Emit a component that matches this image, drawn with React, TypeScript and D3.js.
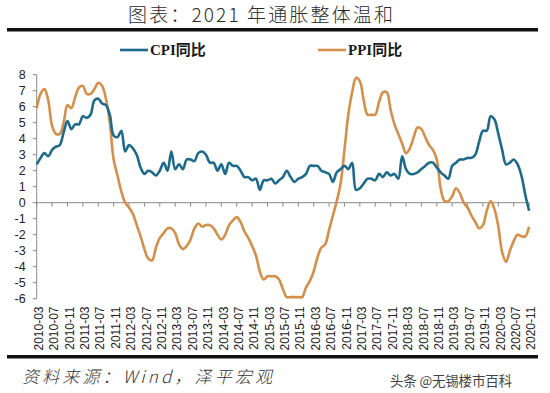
import { useEffect, useRef } from "react";
import * as d3 from "d3";

// months 2010-03 .. 2020-11
const months: string[] = d3
  .timeMonths(new Date(2010, 2, 1), new Date(2020, 11, 1))
  .map(d3.timeFormat("%Y-%m"));

const cpi = [
  2.4, 2.8, 3.1, 2.9, 3.3, 3.5, 3.6, 4.4, 5.1, 4.6,
  4.9, 4.9, 5.4, 5.3, 5.5, 6.4, 6.5, 6.2, 6.1, 5.5, 4.2, 4.1,
  4.5, 3.2, 3.6, 3.4, 3.0, 2.2, 1.8, 2.0, 1.9, 1.7, 2.0, 2.5,
  2.0, 3.2, 2.1, 2.4, 2.1, 2.7, 2.7, 2.6, 3.1, 3.2, 3.0, 2.5,
  2.5, 2.0, 2.4, 1.8, 2.5, 2.3, 2.3, 2.0, 1.6, 1.6, 1.4, 1.5,
  0.8, 1.4, 1.4, 1.5, 1.2, 1.4, 1.6, 2.0, 1.6, 1.3, 1.5, 1.6,
  1.8, 2.3, 2.3, 2.3, 2.0, 1.9, 1.8, 1.3, 1.9, 2.1, 2.3, 2.1,
  2.5, 0.8, 0.9, 1.2, 1.5, 1.5, 1.4, 1.8, 1.6, 1.9, 1.7, 1.8,
  1.5, 2.9, 2.1, 1.8, 1.8, 1.9, 2.1, 2.3, 2.5, 2.5, 2.2, 1.9,
  1.7, 1.5, 2.3, 2.5, 2.7, 2.7, 2.8, 2.8, 3.0, 3.8, 4.5, 4.5,
  5.4, 5.2, 4.3, 3.3, 2.4, 2.5, 2.7, 2.4, 1.7, 0.5, -0.5,
];

const ppi = [
  5.9, 6.8, 7.1, 6.4, 4.8, 4.3, 4.3, 5.0, 6.1, 5.9,
  6.6, 7.2, 7.3, 6.8, 6.8, 7.1, 7.5, 7.3, 6.5, 5.0, 2.7, 1.7,
  0.7, 0.0, -0.3, -0.7, -1.4, -2.1, -2.9, -3.5, -3.6, -2.8, -2.2, -1.9,
  -1.6, -1.6, -1.9, -2.6, -2.9, -2.7, -2.3, -1.6, -1.3, -1.5, -1.4, -1.4,
  -1.6, -2.0, -2.3, -2.0, -1.4, -1.1, -0.9, -1.2, -1.8, -2.2, -2.7, -3.3,
  -4.3, -4.8, -4.6, -4.6, -4.6, -4.8, -5.4, -5.9, -5.9, -5.9, -5.9, -5.9,
  -5.3, -4.9, -4.3, -3.4, -2.8, -2.6, -1.7, -0.8, 0.1, 1.2, 3.3, 5.5,
  6.9, 7.8, 7.6, 6.4, 5.5, 5.5, 5.5, 6.3, 6.9, 6.9, 5.8, 4.9,
  4.3, 3.7, 3.1, 3.4, 4.1, 4.7, 4.6, 4.1, 3.6, 3.3, 2.7, 0.9,
  0.1, 0.1, 0.4, 0.9, 0.6, 0.0, -0.3, -0.8, -1.2, -1.6, -1.4, -0.5,
  0.1, -0.4, -1.5, -3.1, -3.7, -3.0, -2.4, -2.0, -2.1, -2.1, -1.5,
];

const xTickLabels = [
  "2010-03", "2010-07", "2010-11", "2011-03", "2011-07", "2011-11",
  "2012-03", "2012-07", "2012-11", "2013-03", "2013-07", "2013-11",
  "2014-03", "2014-07", "2014-11", "2015-03", "2015-07", "2015-11",
  "2016-03", "2016-07", "2016-11", "2017-03", "2017-07", "2017-11",
  "2018-03", "2018-07", "2018-11", "2019-03", "2019-07", "2019-11",
  "2020-03", "2020-07", "2020-11",
];

const yTicks = [8, 7, 6, 5, 4, 3, 2, 1, 0, -1, -2, -3, -4, -5, -6];

const seriesNames = ["CPI同比", "PPI同比"];
const colors = ["#1d6a8c", "#d48f4a"];

const W = 550;
const H = 393;

function draw(el: SVGSVGElement) {
  const svg = d3.select(el);
  svg.selectAll("*").remove();

  svg.append("rect").attr("width", W).attr("height", H).attr("fill", "#fff");

  // title
  svg
    .append("text")
    .attr("x", 128)
    .attr("y", 22)
    .attr("textLength", 265)
    .attr("lengthAdjust", "spacing")
    .attr("font-family", "'Noto Sans CJK SC'")
    .attr("font-weight", 300)
    .attr("font-size", 19)
    .attr("fill", "#2a2a2a")
    .text("图表：2021 年通胀整体温和");

  svg.append("rect").attr("x", 7).attr("y", 28).attr("width", 531).attr("height", 3.5).attr("fill", "#111");
  svg.append("rect").attr("x", 7).attr("y", 355).attr("width", 531).attr("height", 3.5).attr("fill", "#111");

  const x = d3.scalePoint<string>().domain(months).range([36.7, 529.1]);
  const y = d3.scaleLinear().domain([-6, 8]).range([298.7, 74.7]);

  // y axis
  const yAxis = svg.append("g").attr("transform", "translate(36.7,0)");
  yAxis.append("line").attr("y1", y(8)).attr("y2", y(-6)).attr("stroke", "#8a8a8a");
  yAxis
    .selectAll("line.tick")
    .data(yTicks)
    .join("line")
    .attr("class", "tick")
    .attr("x1", -4)
    .attr("x2", 0)
    .attr("y1", (d) => y(d))
    .attr("y2", (d) => y(d))
    .attr("stroke", "#8a8a8a");
  yAxis
    .selectAll("text")
    .data(yTicks)
    .join("text")
    .attr("x", -11)
    .attr("y", (d) => y(d))
    .attr("dy", "0.35em")
    .attr("text-anchor", "end")
    .attr("font-family", "'Liberation Sans', Arial, sans-serif")
    .attr("font-size", 12.5)
    .attr("fill", "#222")
    .text((d) => String(d));

  // x axis at zero
  const xAxis = svg.append("g").attr("transform", `translate(0,${y(0)})`);
  xAxis.append("line").attr("x1", x(months[0])!).attr("x2", x(months[months.length - 1])!).attr("stroke", "#8a8a8a");
  xAxis
    .selectAll("line.tick")
    .data(xTickLabels)
    .join("line")
    .attr("class", "tick")
    .attr("x1", (d) => x(d)!)
    .attr("x2", (d) => x(d)!)
    .attr("y1", 0)
    .attr("y2", 4)
    .attr("stroke", "#8a8a8a");

  svg
    .append("g")
    .selectAll("text")
    .data(xTickLabels)
    .join("text")
    .attr("transform", (d) => `translate(${x(d)! + 2},306.5) rotate(-90)`)
    .attr("dy", "0.35em")
    .attr("text-anchor", "end")
    .attr("font-family", "'Liberation Sans', Arial, sans-serif")
    .attr("font-size", 12)
    .attr("fill", "#222")
    .text((d) => d);

  const line = d3
    .line<number>()
    .x((_, i) => x(months[i])!)
    .y((d) => y(d))
    .curve(d3.curveCatmullRom.alpha(0.5));

  [ppi, cpi].forEach((s, k) => {
    svg
      .append("path")
      .attr("d", line(s))
      .attr("fill", "none")
      .attr("stroke", k === 0 ? colors[1] : colors[0])
      .attr("stroke-width", 2.6)
      .attr("stroke-linejoin", "round");
  });

  // legend
  const legendX = [120, 318];
  seriesNames.forEach((name, i) => {
    const g = svg.append("g").attr("transform", `translate(${legendX[i]},50)`);
    g.append("line").attr("x1", 0).attr("x2", 28).attr("stroke", colors[i]).attr("stroke-width", 2.6);
    g.append("text")
      .attr("x", 30)
      .attr("y", 5)
      .attr("font-family", "'Liberation Serif', 'Noto Sans CJK SC', serif")
      .attr("font-weight", "bold")
      .attr("font-size", 15)
      .attr("fill", "#1a1a1a")
      .text(name);
  });

  // footer
  svg
    .append("text")
    .attr("x", 22)
    .attr("y", 383)
    .attr("textLength", 250)
    .attr("lengthAdjust", "spacing")
    .attr("font-family", "'Noto Sans CJK SC'")
    .attr("font-weight", 300)
    .attr("font-style", "italic")
    .attr("font-size", 17)
    .attr("fill", "#333")
    .text("资料来源：Wind，泽平宏观");

  svg
    .append("text")
    .attr("x", 390)
    .attr("y", 386)
    .attr("textLength", 122)
    .attr("lengthAdjust", "spacing")
    .attr("font-family", "'Noto Sans CJK SC'")
    .attr("font-size", 13.5)
    .attr("fill", "#444")
    .text("头条 @无锡楼市百科");
}

export default function App() {
  const ref = useRef<SVGSVGElement>(null);
  useEffect(() => {
    if (ref.current) draw(ref.current);
  }, []);
  return (
    <svg
      ref={ref}
      width={W}
      height={H}
      style={{ position: "absolute", left: 0, top: 0, display: "block" }}
    />
  );
}
